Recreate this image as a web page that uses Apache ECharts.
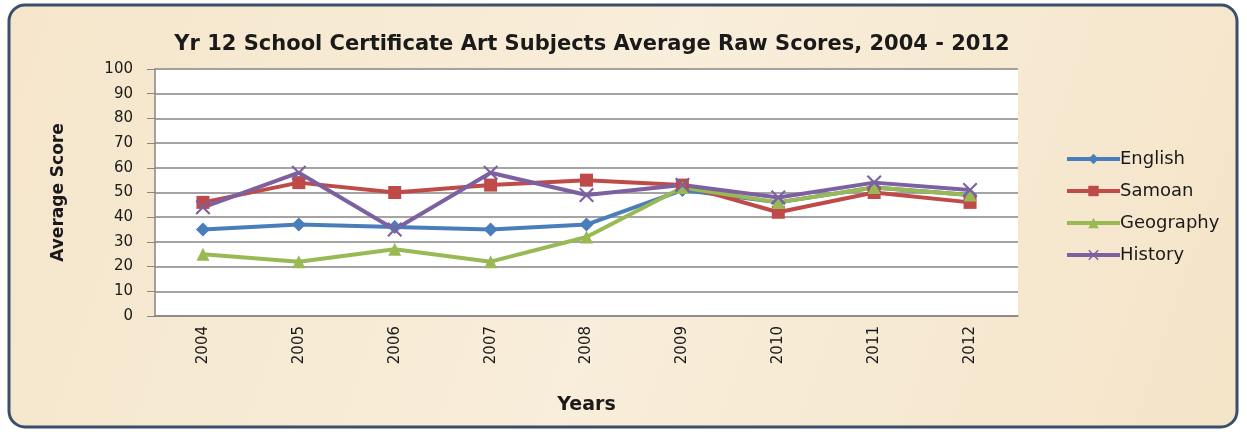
<!DOCTYPE html>
<html>
<head>
<meta charset="utf-8">
<script src="https://cdn.jsdelivr.net/npm/echarts@6/dist/echarts.min.js"></script>
<style>
  html, body { margin: 0; padding: 0; background: #fff; }
  #chart { width: 1247px; height: 432px; }
</style>
</head>
<body>
<div id="chart"></div>
<script>
const years = ['2004', '2005', '2006', '2007', '2008', '2009', '2010', '2011', '2012'];
const english = [35, 37, 36, 35, 37, 51, 46, 52, 49];
const samoan = [46, 54, 50, 53, 55, 53, 42, 50, 46];
const geography = [25, 22, 27, 22, 32, 52, 46, 52, 49];
const history = [44, 58, 35, 58, 49, 53, 48, 54, 51];
const yTicks = [0, 10, 20, 30, 40, 50, 60, 70, 80, 90, 100];

const crossPath = 'path://M0,1L1,0L5,4L9,0L10,1L6,5L10,9L9,10L5,6L1,10L0,9L4,5Z';

/* one config per series, same order as legend */
const seriesDefs = [
  { name: 'English', data: english, color: '#4a7ebb', symbol: 'diamond', size: 14 },
  { name: 'Samoan', data: samoan, color: '#be4b48', symbol: 'rect', size: 13 },
  { name: 'Geography', data: geography, color: '#98b954', symbol: 'triangle', size: 13 },
  { name: 'History', data: history, color: '#7d60a0', symbol: crossPath, size: 15 },
];

const chart = echarts.init(document.getElementById('chart'));
chart.setOption({
  backgroundColor: '#ffffff',
  animation: false,
  textStyle: { fontFamily: 'DejaVu Sans' },
  graphic: [
    {
      type: 'rect',
      z: -10,
      shape: { x: 9, y: 5, width: 1228, height: 422, r: 16 },
      style: {
        fill: {
          type: 'linear', x: 0, y: 0, x2: 1, y2: 1,
          colorStops: [
            { offset: 0, color: '#f5e6cb' },
            { offset: 0.5, color: '#f9eedb' },
            { offset: 1, color: '#f4e4c8' },
          ],
        },
        stroke: '#3a4f69',
        lineWidth: 3,
      },
    },
  ],
  title: {
    text: 'Yr 12 School Certificate Art Subjects Average Raw Scores, 2004 - 2012',
    left: 587,
    textAlign: 'center',
    top: 29,
    textStyle: { fontFamily: 'DejaVu Sans', fontWeight: 'bold', fontSize: 21, color: '#1a1a1a' },
  },
  legend: {
    orient: 'vertical',
    left: 1060,
    top: 145,
    itemWidth: 53,
    itemHeight: 13,
    itemGap: 14,
    lineStyle: { width: 4 },
    textStyle: { fontFamily: 'DejaVu Sans', fontSize: 18, color: '#1a1a1a', padding: [0, 0, 0, -5] },
    data: seriesDefs.map((s) => s.name),
  },
  grid: { left: 155, right: 229, top: 69, bottom: 116, backgroundColor: '#ffffff', show: true, borderWidth: 0 },
  xAxis: {
    type: 'category',
    data: years,
    boundaryGap: true,
    name: 'Years',
    nameLocation: 'middle',
    nameGap: 80,
    nameTextStyle: { fontFamily: 'DejaVu Sans', fontWeight: 'bold', fontSize: 19, color: '#1a1a1a' },
    axisLine: { lineStyle: { color: '#868686', width: 1.5 } },
    axisTick: { show: false },
    axisLabel: { rotate: 90, fontSize: 15, color: '#1a1a1a', margin: 10 },
  },
  yAxis: {
    type: 'value',
    min: yTicks[0],
    max: yTicks[yTicks.length - 1],
    interval: yTicks[1] - yTicks[0],
    name: 'Average Score',
    nameLocation: 'middle',
    nameGap: 88,
    nameTextStyle: { fontFamily: 'DejaVu Sans', fontWeight: 'bold', fontSize: 17, color: '#1a1a1a' },
    axisLine: { show: true, lineStyle: { color: '#868686', width: 1.5 } },
    axisTick: { show: true, inside: false, length: 8, lineStyle: { color: '#868686' } },
    splitLine: { lineStyle: { color: '#868686', width: 1.5 } },
    axisLabel: { fontSize: 15, color: '#1a1a1a', margin: 22 },
  },
  series: seriesDefs.map((s) => ({
    type: 'line',
    name: s.name,
    data: s.data,
    symbol: s.symbol,
    symbolSize: s.size,
    itemStyle: { color: s.color },
    lineStyle: { color: s.color, width: 4 },
  })),
});
</script>
</body>
</html>
